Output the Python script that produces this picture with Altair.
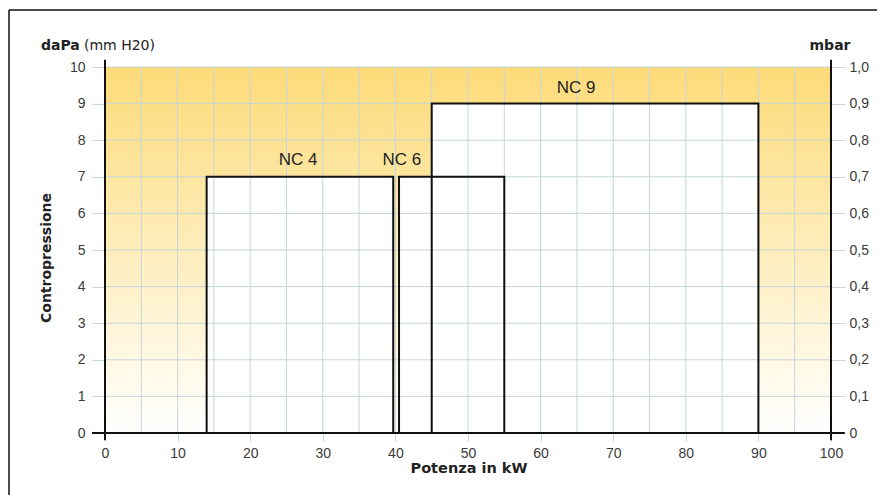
import altair as alt
import pandas as pd

# ---- data ----
names = ["NC 4", "NC 6", "NC 9"]
kw_min = [14.0, 40.5, 45.0]
kw_max = [39.7, 55.0, 90.0]
press = [7, 7, 9]
label_kw = [26.6, 40.9, 64.9]
label_p = [7.45, 7.45, 9.43]

x_ticks = list(range(0, 101, 10))
x_grid = list(range(5, 100, 5))
y_ticks = list(range(0, 11))
mbar_ticks = [round(i * 0.1, 1) for i in range(11)]

FONT = "Liberation Sans"
TFONT = "DejaVu Sans"
GRID = "#c6d6da"
TXT = "#3a3a3a"
W, H = 726, 366

XS = alt.Scale(domain=[0, 100], nice=False, zero=False)
YS = alt.Scale(domain=[0, 10], nice=False, zero=False)

boxes = pd.DataFrame({"name": names, "x0": kw_min, "x1": kw_max,
                      "y0": [0] * 3, "p": press})
labels = pd.DataFrame({"name": names, "lx": label_kw, "ly": label_p})
bg_df = pd.DataFrame({"x0": [0], "x1": [100], "y0": [0], "y1": [10]})
vgrid = pd.DataFrame({"x": x_grid, "y0": [0] * len(x_grid), "y1": [10] * len(x_grid)})
hgrid = pd.DataFrame({"y": y_ticks[1:], "x0": [0] * 10, "x1": [100] * 10})
vaxes = pd.DataFrame({"x": [0, 100], "y0": [-0.2, -0.2], "y1": [10.2, 10.2]})
haxis = pd.DataFrame({"y": [0], "x0": [-1.8], "x1": [101.9]})
mbar_df = pd.DataFrame({"m": mbar_ticks})

gradient = {
    "gradient": "linear", "x1": 0, "y1": 0, "x2": 0, "y2": 1,
    "stops": [{"offset": 0, "color": "#fddb78"},
              {"offset": 1, "color": "#ffffff"}],
}

x_axis = alt.Axis(values=x_ticks, tickColor=GRID, tickSize=8, tickWidth=1,
                  domain=False, grid=False, labelFont=FONT, labelFontSize=14,
                  labelColor=TXT, labelPadding=5, labelFlush=False,
                  labelOverlap=False, title=None)
y_axis = alt.Axis(values=y_ticks, tickColor=GRID, tickSize=13, tickWidth=1,
                  domain=False, grid=False, labelFont=FONT, labelFontSize=14,
                  labelColor=TXT, labelPadding=7, labelFlush=False,
                  labelOverlap=False, title=None)


def X(field):
    return alt.X(field, scale=XS, axis=x_axis)


def Y(field):
    return alt.Y(field, scale=YS, axis=y_axis)


bg = alt.Chart(bg_df).mark_rect(fill=gradient, strokeWidth=0).encode(
    x=X("x0:Q"), x2="x1:Q", y=Y("y0:Q"), y2="y1:Q")

white = alt.Chart(boxes).mark_rect(fill="white", strokeWidth=0).encode(
    x=X("x0:Q"), x2="x1:Q", y=Y("y0:Q"), y2="p:Q")

vg = alt.Chart(vgrid).mark_rule(color=GRID, strokeWidth=1).encode(
    x=X("x:Q"), y=Y("y0:Q"), y2="y1:Q")
hg = alt.Chart(hgrid).mark_rule(color=GRID, strokeWidth=1).encode(
    y=Y("y:Q"), x=X("x0:Q"), x2="x1:Q")

outline = alt.Chart(boxes).mark_rect(fill=None, filled=False, stroke="#111111",
                                     strokeWidth=2).encode(
    x=X("x0:Q"), x2="x1:Q", y=Y("y0:Q"), y2="p:Q")

va = alt.Chart(vaxes).mark_rule(color="#111111", strokeWidth=2).encode(
    x=X("x:Q"), y=Y("y0:Q"), y2="y1:Q")
ha = alt.Chart(haxis).mark_rule(color="#111111", strokeWidth=2).encode(
    y=Y("y:Q"), x=X("x0:Q"), x2="x1:Q")

txt = alt.Chart(labels).mark_text(font=FONT, fontSize=17, color="#222222").encode(
    x=X("lx:Q"), y=Y("ly:Q"), text="name:N")


def label(t, x, y, bold=False, align="left", angle=0, font=TFONT, size=14):
    kw = dict(font=font, fontSize=size, color="#222222", align=align,
              baseline="middle")
    if bold:
        kw["fontWeight"] = "bold"
    if angle:
        kw["angle"] = angle
    return alt.Chart(pd.DataFrame({"t": [t]})).mark_text(**kw).encode(
        x=alt.value(x), y=alt.value(y), text="t:N")


t_dapa = label("daPa", -64, -21, bold=True)
t_mm = label("(mm H20)", -21, -21)
t_mbar = label("mbar", 725, -21, bold=True, align="center")
t_ytitle = label("Contropressione", -58, 191, bold=True, align="center", angle=270)
t_xtitle = label("Potenza in kW", 364, 402, bold=True, align="center", size=14.5)

frame_top = alt.Chart(pd.DataFrame({"a": [0]})).mark_rule(
    color="#111111", strokeWidth=1.5).encode(
    x=alt.value(-96), x2=alt.value(772), y=alt.value(-57))
frame_left = alt.Chart(pd.DataFrame({"a": [0]})).mark_rule(
    color="#111111", strokeWidth=1.5).encode(
    x=alt.value(-96), y=alt.value(-57), y2=alt.value(428))

main = alt.layer(bg, white, vg, hg, outline, va, ha, txt,
                 t_dapa, t_mm, t_mbar, t_ytitle, t_xtitle,
                 frame_top, frame_left)

right = alt.Chart(mbar_df).mark_rule(opacity=0).encode(
    y=alt.Y("m:Q", scale=alt.Scale(domain=[0, 1], nice=False, zero=False),
            axis=alt.Axis(orient="right", values=mbar_ticks, tickColor=GRID,
                          tickSize=14, tickWidth=1, domain=False, grid=False,
                          labelFont=FONT, labelFontSize=14, labelColor=TXT,
                          labelPadding=4, labelFlush=False, labelOverlap=False,
                          title=None,
                          labelExpr="datum.value == 0 ? '0' : replace(format(datum.value, '.1f'), '.', ',')")))

chart = alt.layer(main, right).resolve_scale(y="independent").properties(
    width=W, height=H,
    autosize=alt.AutoSizeParams(type="none"),
    padding={"left": 97, "top": 59, "right": 50, "bottom": 63},
).configure_view(stroke=None).configure(background="white")

chart.save("out.html", embed_options={"renderer": "svg", "actions": False})
